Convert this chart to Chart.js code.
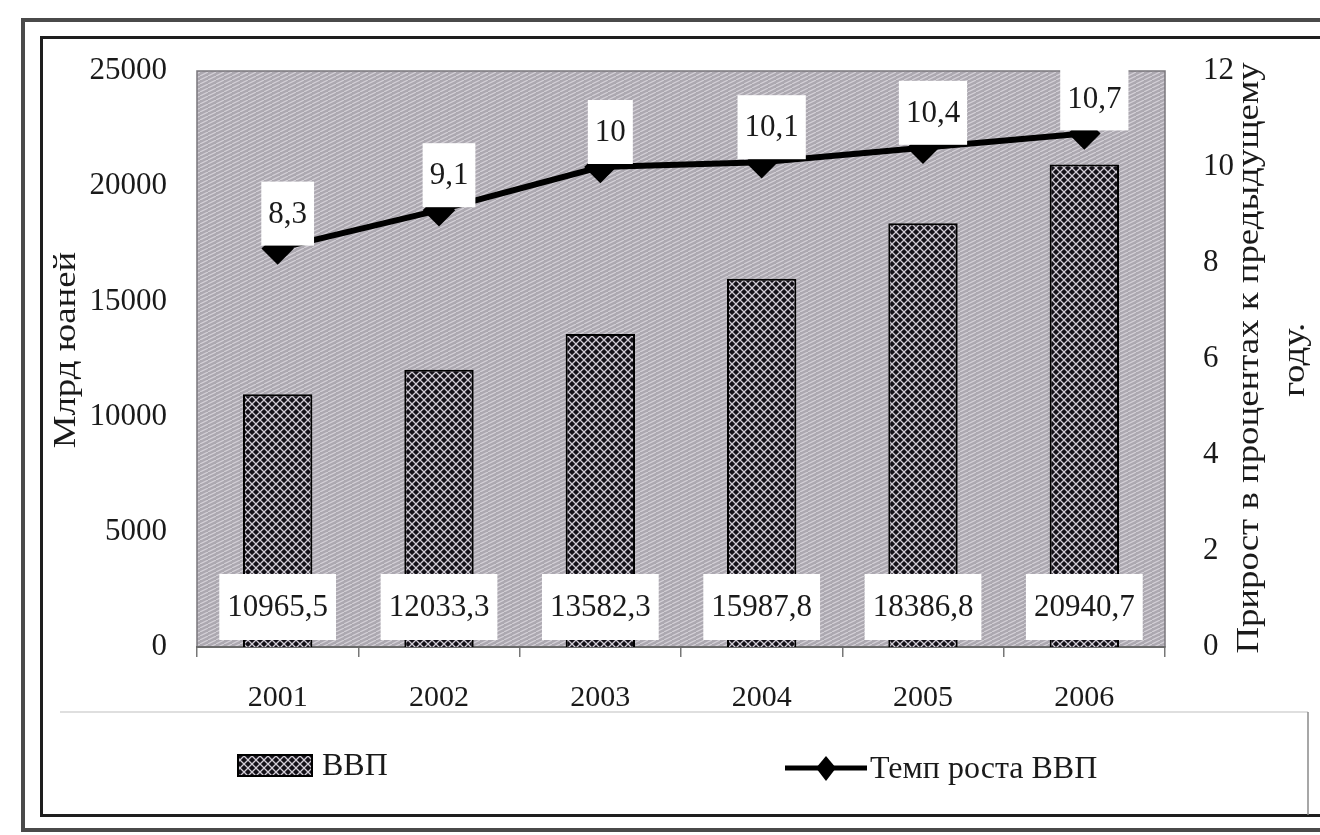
<!DOCTYPE html>
<html>
<head>
<meta charset="utf-8">
<script src="https://cdn.jsdelivr.net/npm/chart.js@4.4.1/dist/chart.umd.min.js"></script>
<style>
  html, body { margin: 0; padding: 0; background: #fff; }
  #wrap { position: relative; width: 1320px; height: 835px; overflow: hidden; }
  .frame-out { position: absolute; left: 21px; top: 18px; width: 1360px; height: 806px; border: 4px solid #4a4a4a; }
  .frame-in { position: absolute; left: 40px; top: 36px; width: 1340px; height: 775px; border: 3px solid #1e1e1e; }
  #chart { position: absolute; left: 0; top: 0; }
</style>
</head>
<body>
<div id="wrap">
  <div class="frame-out"></div>
  <div class="frame-in"></div>
  <canvas id="chart" width="1320" height="835"></canvas>
</div>
<script>
const years = ["2001", "2002", "2003", "2004", "2005", "2006"];
const gdp = [10965.5, 12033.3, 13582.3, 15987.8, 18386.8, 20940.7];
const growth = [8.3, 9.1, 10, 10.1, 10.4, 10.7];
const gdpLabel = "ВВП";
const growthLabel = "Темп роста ВВП";
const leftTitle = "Млрд юаней";
const rightTitle = ["Прирост в процентах к предыдущему", "году."];

const SERIF = '"Liberation Serif", "Times New Roman", serif';
const INK = "#1a1a1a";

// comma as decimal separator, like the original
const fmt = (v) => String(v).replace(".", ",");

// crosshatch fill for the bars
const barTile = document.createElement("canvas");
barTile.width = 8;
barTile.height = 8;
const bt = barTile.getContext("2d");
bt.fillStyle = "#141118";
bt.fillRect(0, 0, 8, 8);
bt.strokeStyle = "#d2cdd6";
bt.lineWidth = 1.3;
bt.beginPath();
bt.moveTo(-1, -1); bt.lineTo(9, 9);
bt.moveTo(9, -1); bt.lineTo(-1, 9);
bt.stroke();
const barPattern = bt.createPattern(barTile, "repeat");

// grey striped plot background
const bgTile = document.createElement("canvas");
bgTile.width = 8;
bgTile.height = 4;
const gt = bgTile.getContext("2d");
gt.fillStyle = "#aca8b0";
gt.fillRect(0, 0, 8, 4);
gt.strokeStyle = "#d4d0d7";
gt.lineWidth = 1.2;
gt.beginPath();
gt.moveTo(-2, 5); gt.lineTo(10, -1);
gt.stroke();
const bgPattern = gt.createPattern(bgTile, "repeat");

const plotBackground = {
  id: "plotBackground",
  beforeDraw(chart) {
    const { ctx, chartArea: a } = chart;
    ctx.save();
    ctx.fillStyle = bgPattern;
    ctx.fillRect(a.left, a.top, a.right - a.left, a.bottom - a.top);
    ctx.strokeStyle = "#7a777c";
    ctx.lineWidth = 1.5;
    ctx.strokeRect(a.left, a.top, a.right - a.left, a.bottom - a.top);
    ctx.restore();
  },
};

const valueBoxes = {
  id: "valueBoxes",
  afterDatasetsDraw(chart) {
    const ctx = chart.ctx;
    ctx.save();
    ctx.font = "31px " + SERIF;
    ctx.textAlign = "center";
    ctx.textBaseline = "middle";

    chart.getDatasetMeta(0).data.forEach((bar, i) => {
      const text = fmt(gdp[i]);
      const w = ctx.measureText(text).width + 16;
      const h = 66;
      const cy = bar.base - 40;
      ctx.fillStyle = "#fff";
      ctx.fillRect(bar.x - w / 2, cy - h / 2, w, h);
      ctx.fillStyle = INK;
      ctx.fillText(text, bar.x, cy + 1);
    });

    chart.getDatasetMeta(1).data.forEach((pt, i) => {
      const text = fmt(growth[i]);
      const w = ctx.measureText(text).width + 14;
      const h = 64;
      const cx = pt.x + 10;
      const cy = pt.y - 3 - h / 2;
      ctx.fillStyle = "#fff";
      ctx.fillRect(cx - w / 2, cy - h / 2, w, h);
      ctx.fillStyle = INK;
      ctx.fillText(text, cx, cy + 1);
    });
    ctx.restore();
  },
};

function rotatedText(ctx, text, x, y) {
  ctx.save();
  ctx.translate(x, y);
  ctx.rotate(-Math.PI / 2);
  ctx.scale(1.15, 1);
  ctx.fillText(text, 0, 0);
  ctx.restore();
}

const axisTitles = {
  id: "axisTitles",
  afterDraw(chart) {
    const ctx = chart.ctx;
    ctx.save();
    ctx.font = "32px " + SERIF;
    ctx.fillStyle = INK;
    ctx.textAlign = "center";
    ctx.textBaseline = "middle";
    rotatedText(ctx, leftTitle, 67, 350);
    rotatedText(ctx, rightTitle[0], 1250, 358);
    rotatedText(ctx, rightTitle[1], 1296, 360);
    ctx.restore();
  },
};

const bottomLegend = {
  id: "bottomLegend",
  afterDraw(chart) {
    const ctx = chart.ctx;
    ctx.save();
    // faint box round the legend strip
    ctx.strokeStyle = "#d4d4d4";
    ctx.lineWidth = 1.5;
    ctx.beginPath();
    ctx.moveTo(60, 712);
    ctx.lineTo(1308, 712);
    ctx.stroke();
    ctx.strokeStyle = "#8a8a8a";
    ctx.beginPath();
    ctx.moveTo(1308, 712);
    ctx.lineTo(1308, 815);
    ctx.stroke();

    ctx.font = "32px " + SERIF;
    ctx.fillStyle = INK;
    ctx.textBaseline = "middle";
    ctx.textAlign = "left";

    // ВВП swatch
    ctx.fillStyle = barPattern;
    ctx.fillRect(238, 755, 74, 21);
    ctx.strokeStyle = "#000";
    ctx.lineWidth = 2;
    ctx.strokeRect(238, 755, 74, 21);
    ctx.fillStyle = INK;
    ctx.fillText(gdpLabel, 322, 767);

    // line with diamond
    ctx.strokeStyle = "#000";
    ctx.lineWidth = 5;
    ctx.beginPath();
    ctx.moveTo(785, 768);
    ctx.lineTo(867, 768);
    ctx.stroke();
    ctx.fillStyle = "#000";
    ctx.beginPath();
    ctx.moveTo(826, 756);
    ctx.lineTo(836, 768);
    ctx.lineTo(826, 781);
    ctx.lineTo(816, 768);
    ctx.closePath();
    ctx.fill();
    ctx.fillStyle = INK;
    ctx.fillText(growthLabel, 870, 770);
    ctx.restore();
  },
};

Chart.defaults.font.family = SERIF;
Chart.defaults.color = INK;

new Chart(document.getElementById("chart"), {
  type: "bar",
  data: {
    labels: years,
    datasets: [
      {
        label: gdpLabel,
        data: gdp,
        yAxisID: "y",
        backgroundColor: barPattern,
        borderColor: "#000",
        borderWidth: 2,
        barPercentage: 0.43,
        categoryPercentage: 1,
        order: 2,
      },
      {
        type: "line",
        label: growthLabel,
        data: growth,
        yAxisID: "y1",
        borderColor: "#000",
        borderWidth: 6,
        tension: 0,
        pointStyle: "rectRot",
        pointRadius: 12,
        pointBackgroundColor: "#000",
        pointBorderColor: "#000",
        order: 1,
      },
    ],
  },
  options: {
    responsive: false,
    animation: false,
    layout: { padding: { left: 40, right: 40, top: 71, bottom: 118 } },
    plugins: {
      legend: { display: false },
      tooltip: { enabled: false },
    },
    scales: {
      x: {
        grid: { offset: true, drawOnChartArea: false, drawTicks: true, tickLength: 10, color: "#777", lineWidth: 1.5 },
        border: { display: true, color: "#6a6a6a", width: 2 },
        ticks: { font: { size: 30 }, padding: 23, color: INK },
        afterFit: (s) => { s.height = 70; },
      },
      y: {
        position: "left",
        min: 0,
        max: 25000,
        ticks: { stepSize: 5000, font: { size: 31 }, padding: 22, color: INK, callback: (v) => String(v) },
        grid: { display: false },
        border: { display: false },
        afterFit: (s) => { s.width = 157; },
      },
      y1: {
        position: "right",
        min: 0,
        max: 12,
        ticks: { stepSize: 2, font: { size: 31 }, padding: 30, color: INK, callback: (v) => String(v) },
        grid: { display: false },
        border: { display: false },
        afterFit: (s) => { s.width = 115; },
      },
    },
  },
  plugins: [plotBackground, valueBoxes, axisTitles, bottomLegend],
});
</script>
</body>
</html>
